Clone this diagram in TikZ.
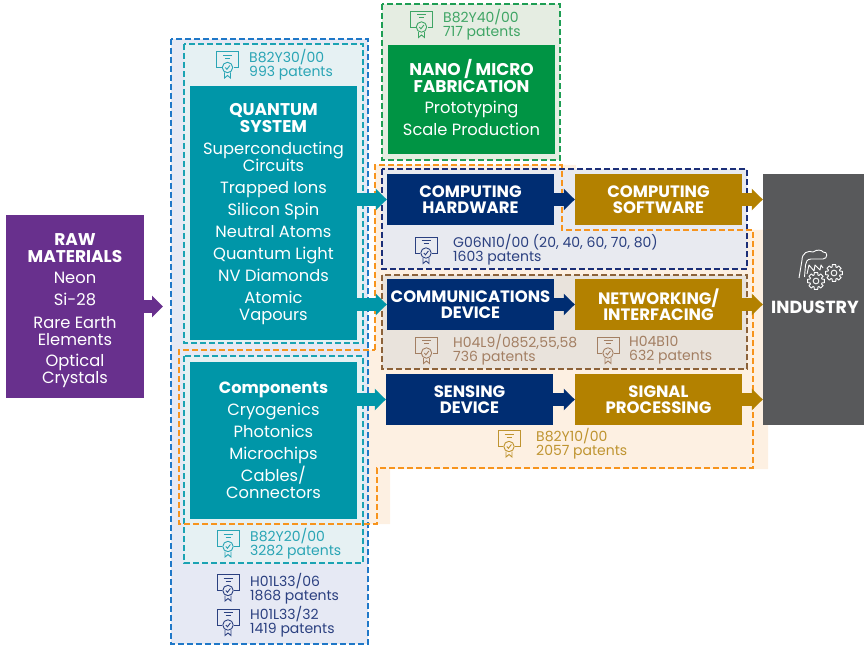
\documentclass[tikz,border=0pt]{standalone}
\usepackage{fontspec}
\setmainfont{Poppins}
\usetikzlibrary{arrows.meta}

\definecolor{rawpurple}{HTML}{68308D}
\definecolor{systeal}{HTML}{0096A8}
\definecolor{fabgreen}{HTML}{009444}
\definecolor{hwnavy}{HTML}{002D72}
\definecolor{swgold}{HTML}{B38100}
\definecolor{indgray}{HTML}{58595B}
\definecolor{dashblue}{HTML}{1F78C8}
\definecolor{dashteal}{HTML}{1BA3B3}
\definecolor{dashgreen}{HTML}{1E9E54}
\definecolor{dashorange}{HTML}{F7941D}
\definecolor{dashnavy}{HTML}{1B2F78}
\definecolor{dashbrown}{HTML}{8C6239}
\definecolor{zoneblue}{HTML}{E6E9F4}
\definecolor{zoneteal}{HTML}{E6F1F3}
\definecolor{zonegreen}{HTML}{E5EDE2}
\definecolor{zonenavy}{HTML}{E8EAF0}
\definecolor{zonebrown}{HTML}{E9E3DC}
\definecolor{zoneorange}{HTML}{FDF0E2}
\definecolor{labteal}{HTML}{2AA5B5}
\definecolor{labgreen}{HTML}{3FA565}
\definecolor{labnavy}{HTML}{2B4080}
\definecolor{labbrown}{HTML}{A37F63}
\definecolor{labgold}{HTML}{BF9430}

\newcommand{\heavy}{\fontsize{17}{17}\selectfont\bfseries}

\tikzset{
  zone/.style={line width=1.8pt, dash pattern=on 6pt off 3pt},
  bluebox/.style={fill=#1, text=white, inner sep=0pt, align=center, minimum width=167pt,
    font=\fontsize{16.5}{16}\selectfont\bfseries},
  listbox/.style={bluebox=#1, font=\fontsize{16.3}{17}\selectfont},
  flow/.style={line width=12.5pt, draw=#1, -{Triangle[length=11pt,width=21pt,fill=#1]}},
  patents/.style={anchor=west, align=left, inner sep=0pt, text=#1,
    font=\fontsize{14}{14}\selectfont},
  certicon/.pic={
    \draw[line width=0.9pt] (-6,3) -- (-11,3) -- (-11,-13) -- (11,-13) -- (11,3) -- (6,3);
    \draw[line width=0.9pt] (-4.5,-9.5) -- (4.5,-9.5) (-2.5,-6.5) -- (2.5,-6.5);
    \draw[line width=0.9pt] (0,3) circle (5.2);
    \draw[line width=0.9pt] (-2.2,3) -- (-0.6,4.8) -- (2.4,1);
    \draw[line width=0.9pt] (-3,8) -- (-3,13.5) -- (0,11) -- (3,13.5) -- (3,8);
  },
  gearicon/.pic={
    \draw[line width=0.9pt, line join=round] (-12:9)
      \foreach \a in {0,45,...,315} { -- (\a-12:9) -- (\a+12:9) -- (\a+17:6.6) -- (\a+28:6.6) } -- cycle;
    \draw[line width=0.9pt] (0,0) circle (3);
  },
}

\begin{document}
\begin{tikzpicture}[x=1pt,y=-1pt]
\useasboundingbox (0,0) rectangle (865,647);

% orange zone, fill
\fill[zoneorange] (375,165) -- (576,165) -- (576,230) -- (768,230) -- (768,469)
  -- (390,469) -- (390,524) -- (179,524) -- (179,350) -- (375,350) -- cycle;

% zones
\draw[zone, dashblue, fill=zoneblue] (171,39) rectangle (368,644);
\draw[zone, dashteal, fill=zoneteal] (184,44) rectangle (363,343);
\draw[zone, dashteal, fill=zoneteal] (184,356) rectangle (363,563);
\draw[zone, dashgreen, fill=zonegreen] (382,4) rectangle (560,160);
\draw[zone, dashnavy, fill=zonenavy] (382,169) rectangle (747,269);
\draw[zone, dashbrown, fill=zonebrown] (382,275) rectangle (747,369);

% orange zone, line
\draw[zone, dashorange] (375,350) -- (375,165) -- (562,165) -- (562,230) -- (753,230)
  -- (753,468) -- (377,468) -- (377,524) -- (179,524) -- (179,350) -- cycle;

% raw materials
\node[listbox=rawpurple, minimum width=138pt, minimum height=183pt] (raw) at (75,306.5)
{\rule{0pt}{20pt}\heavy RAW\\\heavy MATERIALS\\[4pt]Neon\\[5pt]Si-28\\[6pt]Rare Earth\\Elements\\[4pt]Optical\\Crystals};
\coordinate (rawtip) at (163,306.5);

% quantum system
\node[listbox=systeal, minimum height=254pt] (qsys) at (273.5,213)
{\rule{0pt}{15pt}\heavy QUANTUM\\\heavy SYSTEM\\[5pt]Superconducting\\Circuits\\[5pt]Trapped Ions\\[5pt]Silicon Spin\\[5pt]Neutral Atoms\\[5pt]Quantum Light\\[5pt]NV Diamonds\\[5pt]Atomic\\Vapours};

% components
\node[listbox=systeal, minimum height=157pt] (comp) at (273.5,440.5)
{\bfseries Components\\[5pt]Cryogenics\\[5pt]Photonics\\[5pt]Microchips\\[1pt]Cables/\\Connectors};

% fabrication
\node[listbox=fabgreen, minimum height=109pt] (fab) at (471.5,99.5)
{\heavy NANO / MICRO\\\heavy FABRICATION\\[4pt]Prototyping\\[5pt]Scale Production\rule[-5pt]{0pt}{5pt}};

% hardware
\node[bluebox=hwnavy, minimum height=51pt] (chw) at (470.5,199.5) {COMPUTING\\HARDWARE};
\node[bluebox=hwnavy, minimum height=51pt] (comm) at (470.5,304.5) {COMMUNICATIONS\\DEVICE};
\node[bluebox=hwnavy, minimum height=51pt] (sens) at (469.5,399.5) {SENSING\\DEVICE};

% software
\node[bluebox=swgold, minimum height=51pt] (csw) at (658.5,199.5) {COMPUTING\\SOFTWARE};
\node[bluebox=swgold, minimum height=51pt] (net) at (658.5,304.5) {NETWORKING/\\INTERFACING};
\node[bluebox=swgold, minimum height=51pt] (sig) at (658.5,399.5) {SIGNAL\\PROCESSING};

% industry
\node[fill=indgray, inner sep=0pt, minimum width=101pt, minimum height=251pt] (ind) at (813.5,299.5) {};
\node[text=white, inner sep=0pt, font=\fontsize{17.5}{17}\selectfont\bfseries] (indlab) at (815,307) {INDUSTRY};
\pic[white, scale=0.95] at (816,281) {gearicon};
\pic[white, scale=0.95] at (834,273) {gearicon};
\draw[white, line width=0.9pt, line join=round] (799,278) -- (802,260) .. controls (802,253) and (808,250) .. (813,252)
  .. controls (817,249) and (822,250) .. (823,252) .. controls (828,251) and (828,259) .. (823,259)
  -- (811,259) .. controls (807,259) and (806,262) .. (805.5,265) -- (804.5,277);
\draw[white, line width=0.9pt, line join=round] (807,274) -- (809,265) -- (814,271) -- (815,265) -- (820,270) -- (821,265) -- (823,268);

% arrows
\draw[flow=rawpurple] (raw.east |- rawtip) -- (rawtip);
\draw[flow=systeal] (qsys.east |- chw.west) -- (chw.west);
\draw[flow=systeal] (qsys.east |- comm.west) -- (comm.west);
\draw[flow=systeal] (comp.east |- sens.west) -- (sens.west);
\draw[flow=hwnavy] (chw.east) -- (csw.west);
\draw[flow=hwnavy] (comm.east) -- (net.west);
\draw[flow=hwnavy] (sens.east) -- (sig.west);
\draw[flow=swgold] (csw.east) -- (csw.east -| ind.west);
\draw[flow=swgold] (net.east) -- (net.east -| ind.west);
\draw[flow=swgold] (sig.east) -- (sig.east -| ind.west);

% patents
\pic[labgreen] at (421.5,24) {certicon};
\node[patents=labgreen] (p40) at (443,25) {B82Y40/00\\717 patents};

\pic[labteal] at (227.5,64.5) {certicon};
\node[patents=labteal] (p30) at (249,65) {B82Y30/00\\993 patents};

\pic[labnavy] at (426,250) {certicon};
\node[patents=labnavy] (pg06) at (453,250) {G06N10/00 (20, 40, 60, 70, 80)\\1603 patents};

\pic[labbrown] at (426.5,350) {certicon};
\node[patents=labbrown] (ph04l) at (453,350) {H04L9/0852,55,58\\736 patents};

\pic[labbrown] at (608,350) {certicon};
\node[patents=labbrown] (ph04b) at (629,350) {H04B10\\632 patents};

\pic[labgold] at (509,443.5) {certicon};
\node[patents=labgold] (p10) at (536,444) {B82Y10/00\\2057 patents};

\pic[labteal] at (228,543.5) {certicon};
\node[patents=labteal] (p20) at (250,544) {B82Y20/00\\3282 patents};

\pic[labnavy] at (228,587.5) {certicon};
\node[patents=labnavy] (ph06) at (250,588.5) {H01L33/06\\1868 patents};

\pic[labnavy] at (228,622) {certicon};
\node[patents=labnavy] (ph32) at (250,622) {H01L33/32\\1419 patents};

\end{tikzpicture}
\end{document}
